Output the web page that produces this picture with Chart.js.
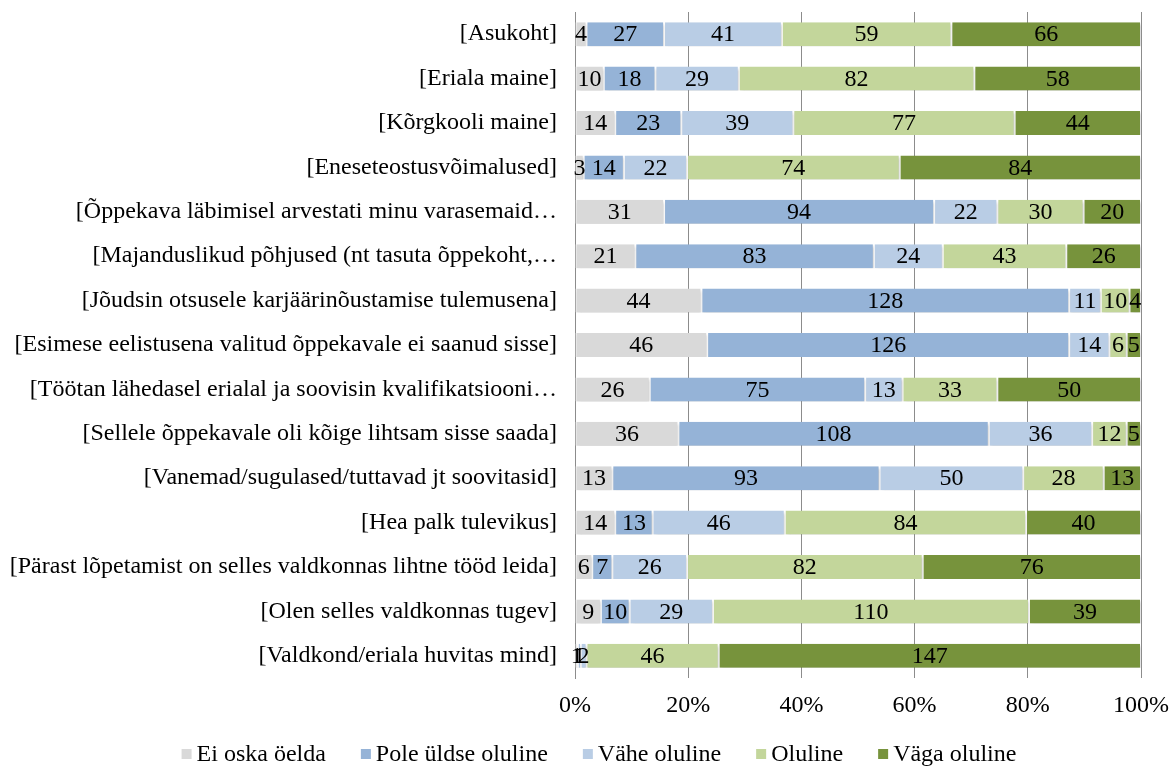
<!DOCTYPE html>
<html>
<head>
<meta charset="utf-8">
<script src="https://cdn.jsdelivr.net/npm/chart.js@4"></script>
<style>
html,body{margin:0;padding:0;background:#fff;}
#wrap{width:1172px;height:767px;position:relative;}
</style>
</head>
<body>
<div id="wrap"><canvas id="c" width="1172" height="767"></canvas></div>
<script>
const categories = [
  "[Asukoht]",
  "[Eriala maine]",
  "[Kõrgkooli maine]",
  "[Eneseteostusvõimalused]",
  "[Õppekava läbimisel arvestati minu varasemaid…",
  "[Majanduslikud põhjused (nt tasuta õppekoht,…",
  "[Jõudsin otsusele karjäärinõustamise tulemusena]",
  "[Esimese eelistusena valitud õppekavale ei saanud sisse]",
  "[Töötan lähedasel erialal ja soovisin kvalifikatsiooni…",
  "[Sellele õppekavale oli kõige lihtsam sisse saada]",
  "[Vanemad/sugulased/tuttavad jt soovitasid]",
  "[Hea palk tulevikus]",
  "[Pärast lõpetamist on selles valdkonnas lihtne tööd leida]",
  "[Olen selles valdkonnas tugev]",
  "[Valdkond/eriala huvitas mind]"
];
const seriesNames = ["Ei oska öelda","Pole üldse oluline","Vähe oluline","Oluline","Väga oluline"];
const eiOska   = [4,10,14,3,31,21,44,46,26,36,13,14,6,9,1];
const pole     = [27,18,23,14,94,83,128,126,75,108,93,13,7,10,1];
const vahe     = [41,29,39,22,22,24,11,14,13,36,50,46,26,29,2];
const oluline  = [59,82,77,74,30,43,10,6,33,12,28,84,82,110,46];
const vagaOl   = [66,58,44,84,20,26,4,5,50,5,13,40,76,39,147];
const xTicks   = ["0%","20%","40%","60%","80%","100%"];
const colors = ["#d9d9d9","#95b3d7","#b9cde5","#c3d69b","#77933c"];

const raw = [eiOska,pole,vahe,oluline,vagaOl];
const totals = categories.map((_,i)=>raw.reduce((s,a)=>s+a[i],0));

const datasets = raw.map((arr,k)=>({
  label: seriesNames[k],
  data: arr.map((v,i)=>v/totals[i]*100),
  rawValues: arr,
  backgroundColor: colors[k],
  borderColor: "#ffffff",
  borderWidth: {left:1,right:1,top:0,bottom:0},
  borderSkipped: false,
  categoryPercentage: 0.54,
  barPercentage: 1.0
}));

const FONT = "'Liberation Serif', 'Times New Roman', serif";
const FS = 24;

const shadowPlugin = {
  id: 'shadow',
  beforeDatasetsDraw(chart){
    const ctx = chart.ctx;
    ctx.save();
    ctx.shadowColor = 'rgba(0,0,0,0.22)';
    ctx.shadowBlur = 3;
    ctx.shadowOffsetX = 1;
    ctx.shadowOffsetY = 2;
  },
  afterDatasetsDraw(chart){
    chart.ctx.restore();
  }
};

const labelPlugin = {
  id: 'segLabels',
  afterDatasetsDraw(chart){
    const ctx = chart.ctx;
    ctx.save();
    ctx.font = FS + "px " + FONT;
    ctx.fillStyle = "#000";
    ctx.textAlign = "center";
    ctx.textBaseline = "middle";
    chart.data.datasets.forEach((ds,di)=>{
      const meta = chart.getDatasetMeta(di);
      meta.data.forEach((el,i)=>{
        const v = ds.rawValues[i];
        const cx = (el.x + el.base)/2;
        ctx.fillText(String(v), cx, el.y + 1);
      });
    });
    ctx.restore();
  }
};

const legendPlugin = {
  id: 'customLegend',
  afterDraw(chart){
    const ctx = chart.ctx;
    ctx.save();
    ctx.font = FS + "px " + FONT;
    ctx.textBaseline = "middle";
    ctx.textAlign = "left";
    const box = 10, gapBT = 5, gapItem = 35;
    const items = chart.data.datasets.map(ds=>({text: ds.label, color: ds.backgroundColor, w: ctx.measureText(ds.label).width}));
    const total = items.reduce((s,it)=>s+box+gapBT+it.w,0) + gapItem*(items.length-1);
    let x = 599 - total/2;
    const y = 755;
    items.forEach(it=>{
      ctx.fillStyle = it.color;
      ctx.fillRect(x, y - 6, box, box);
      ctx.fillStyle = "#000";
      ctx.fillText(it.text, x + box + gapBT, y);
      x += box + gapBT + it.w + gapItem;
    });
    ctx.restore();
  }
};

new Chart(document.getElementById('c'), {
  type: 'bar',
  data: { labels: categories, datasets },
  options: {
    indexAxis: 'y',
    responsive: false,
    animation: false,
    layout: { padding: { left: 0, right: 31, top: 12, bottom: 51 } },
    plugins: {
      legend: { display: false },
      tooltip: { enabled: false }
    },
    scales: {
      x: {
        stacked: true,
        min: 0, max: 100,
        ticks: {
          stepSize: 20,
          font: { family: FONT, size: FS },
          color: '#000',
          padding: 13,
          callback: (v,i)=> xTicks[v/20]
        },
        grid: { color: '#8c8c8c', drawTicks: false, lineWidth: 1 },
        border: { display: false },
        afterFit(scale){ scale.height = 38; scale.paddingLeft = 0; scale.paddingRight = 0; }
      },
      y: {
        stacked: true,
        ticks: {
          font: { family: FONT, size: FS },
          color: '#000',
          padding: 18,
          autoSkip: false
        },
        grid: { display: false, drawTicks: false },
        border: { display: true, color: '#8c8c8c', width: 1 },
        afterFit(scale){ scale.width = 575; scale.paddingTop = 0; scale.paddingBottom = 0; }
      }
    }
  },
  plugins: [shadowPlugin, labelPlugin, legendPlugin]
});
</script>
</body>
</html>
